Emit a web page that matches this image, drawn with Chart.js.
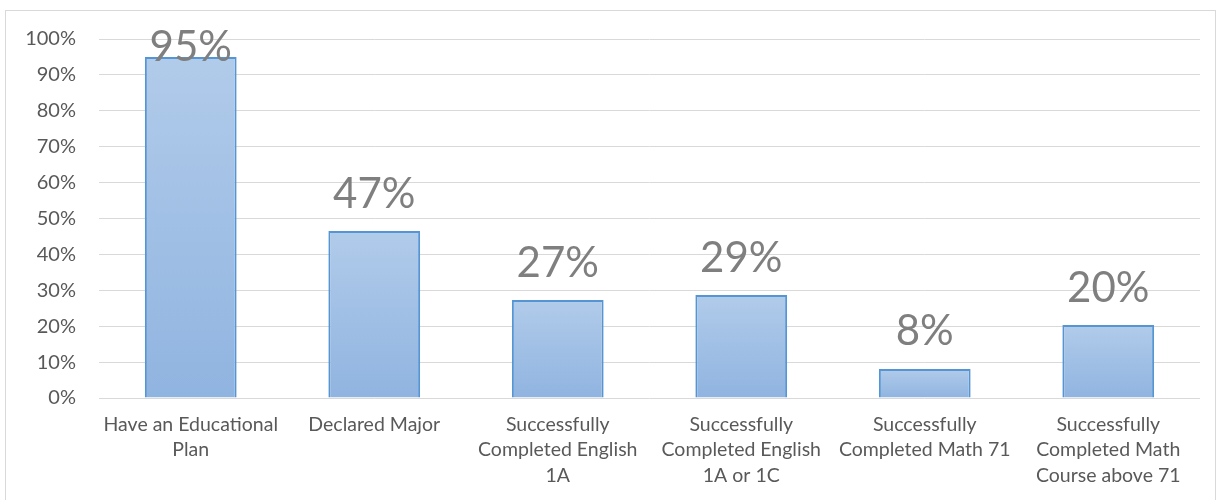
<!DOCTYPE html>
<html>
<head>
<meta charset="utf-8">
<script src="https://cdn.jsdelivr.net/npm/chart.js@4/dist/chart.umd.min.js"></script>
<style>
  html, body { margin: 0; padding: 0; background: #fff; }
  #wrap { position: relative; width: 1222px; height: 500px; overflow: hidden; }
  #frame { position: absolute; left: 5px; top: 10px; width: 1211px; height: 500px; border: 1px solid #d9d9d9; box-sizing: border-box; }
  canvas { position: absolute; left: 0; top: 0; }
</style>
</head>
<body>
<div id="wrap">
  <div id="frame"></div>
  <canvas id="c" width="1222" height="500"></canvas>
</div>
<script>
const categories = [
  ["Have an Educational", "Plan"],
  ["Declared Major"],
  ["Successfully", "Completed English", "1A"],
  ["Successfully", "Completed English", "1A or 1C"],
  ["Successfully", "Completed Math 71"],
  ["Successfully", "Completed Math", "Course above 71"]
];
const values = [0.95, 0.465, 0.273, 0.287, 0.081, 0.203];
const valueLabels = ["95%", "47%", "27%", "29%", "8%", "20%"];
const yTicks = [0, 0.1, 0.2, 0.3, 0.4, 0.5, 0.6, 0.7, 0.8, 0.9, 1.0];

const FONT = "Lato, 'Open Sans', 'DejaVu Sans', sans-serif";

const labelPlugin = {
  id: 'valueLabels',
  afterDatasetsDraw(chart) {
    const ctx = chart.ctx;
    const meta = chart.getDatasetMeta(0);
    ctx.save();
    ctx.font = "42px " + FONT;
    ctx.fillStyle = "#7f7f7f";
    ctx.textAlign = "center";
    ctx.textBaseline = "middle";
    meta.data.forEach((bar, i) => {
      const y = Math.max(bar.y - 37, chart.chartArea.top + 8);
      ctx.fillText(valueLabels[i], bar.x, y);
    });
    ctx.restore();
  }
};

function barFill(context) {
  const chart = context.chart;
  const ys = chart.scales && chart.scales.y;
  if (!ys || context.raw === undefined) return '#a3c2e6';
  const top = ys.getPixelForValue(context.raw);
  const base = ys.getPixelForValue(0);
  if (!isFinite(top) || !isFinite(base) || top === base) return '#a3c2e6';
  const g = chart.ctx.createLinearGradient(0, top, 0, base);
  g.addColorStop(0, '#b1cbea');
  g.addColorStop(1, '#90b4e0');
  return g;
}

new Chart(document.getElementById('c'), {
  type: 'bar',
  data: {
    labels: categories,
    datasets: [{
      data: values,
      backgroundColor: barFill,
      borderColor: '#5695d4',
      borderWidth: 2,
      barPercentage: 0.5,
      categoryPercentage: 1.0
    }]
  },
  plugins: [labelPlugin],
  options: {
    responsive: false,
    animation: false,
    events: [],
    layout: { padding: { top: 39, right: 22, bottom: 0, left: 0 } },
    plugins: { legend: { display: false }, tooltip: { enabled: false } },
    scales: {
      x: {
        grid: { display: false, drawTicks: false },
        border: { display: false },
        ticks: {
          color: '#595959',
          font: { family: FONT, size: 19.5, lineHeight: 1.3 },
          padding: 14,
          maxRotation: 0,
          autoSkip: false
        },
        afterFit(scale) { scale.height = 102; }
      },
      y: {
        min: 0, max: 1,
        afterBuildTicks(scale) { scale.ticks = yTicks.map(v => ({ value: v })); },
        grid: { color: '#d9d9d9', lineWidth: 1, drawTicks: false },
        border: { display: false },
        ticks: {
          color: '#595959',
          font: { family: FONT, size: 20 },
          padding: 23,
          callback: v => Math.round(v * 100) + '%'
        },
        afterFit(scale) { scale.width = 99; }
      }
    }
  }
});
</script>
</body>
</html>
